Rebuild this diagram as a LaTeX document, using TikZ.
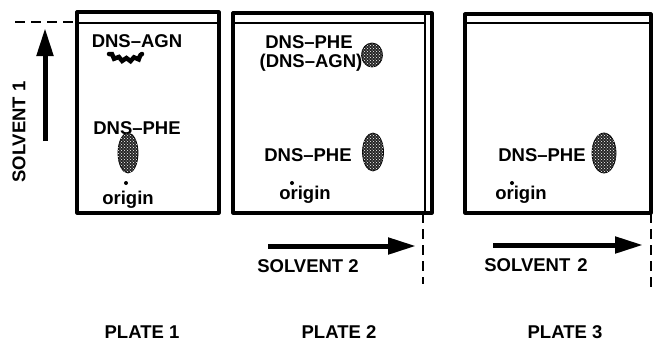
\documentclass[tikz,border=0pt]{standalone}
\usepackage{fontspec}
\setmainfont{Liberation Sans}
\usetikzlibrary{arrows.meta,decorations.pathmorphing,patterns,positioning}

\begin{document}
\begin{tikzpicture}[x=1pt,y=-1pt,font=\fontsize{18.5}{20}\selectfont\bfseries]

\tikzset{platebox/.style={line width=3.2pt,line join=round},
innerline/.style={line width=2.4pt},
frontline/.style={line width=2.6pt,dash pattern=on 10pt off 6pt},
solventarrow/.style={line width=5pt,-{Triangle[length=28pt,width=16pt]}},
spot/.style={fill=black!85,draw=black,line width=0.8pt,postaction={pattern=crosshatch dots,pattern color=white}},
lbl/.style={inner sep=0pt}}

\useasboundingbox (0,0) rectangle (654,341);

% Plates
\draw[platebox] (77,12) rectangle (219,213);
\draw[innerline] (77,23) -- (219,23);
\draw[platebox] (233,13) rectangle (432,213);
\draw[innerline] (233,23) -- (425,23);
\draw[innerline] (425,13) -- (425,213);
\draw[platebox] (465,14) rectangle (651,213);
\draw[innerline] (465,23) -- (651,23);

% Solvent fronts
\coordinate (front1a) at (15,22);
\coordinate (front1b) at (77,22);
\coordinate (front2a) at (423,213);
\coordinate (front2b) at (423,284);
\coordinate (front3a) at (651,213);
\coordinate (front3b) at (651,291);
\draw[frontline] (front1a) -- (front1b);
\draw[frontline] (front2a) -- (front2b);
\draw[frontline] (front3a) -- (front3b);

% Solvent arrows
\coordinate (s1tail) at (45,141);
\coordinate (s1head) at (45,28);
\coordinate (s2tail) at (268,246);
\coordinate (s2head) at (416,246);
\coordinate (s3tail) at (493,245);
\coordinate (s3head) at (643,245);
\draw[solventarrow] (s1tail) -- (s1head);
\draw[solventarrow] (s2tail) -- (s2head);
\draw[solventarrow] (s3tail) -- (s3head);
\node[lbl,rotate=90] (solv1) at (19,132) {SOLVENT 1};
\node[lbl] (solv2) at (308,266) {SOLVENT 2};
\node[lbl] (solv3) at (536,265) {SOLVENT\hspace{7pt}2};

% Plate 1
\node[lbl] (agn1) at (137,41) {DNS--AGN};
\draw[line width=4.5pt,line cap=round,decorate,decoration={snake,amplitude=1.6pt,segment length=8pt}] (109,54) .. controls (118,60) and (133,60) .. (142,54);
\node[lbl] (phe1) at (137,128) {DNS--PHE};
\path[spot] (128,153) ellipse (10 and 20);
\fill (126,183) circle (2);
\node[lbl] (orig1) at (128,200) {origin};

% Plate 2
\node[lbl] (phe2a) at (309,42) {DNS--PHE};
\node[lbl] (agn2) at (311,63) {(DNS--AGN)};
\path[spot] (372,55) ellipse (10.5 and 12);
\node[lbl] (phe2b) at (308,155) {DNS--PHE};
\path[spot] (373,152) ellipse (10.5 and 19);
\fill (292,183) circle (2);
\node[lbl] (orig2) at (305,195) {origin};

% Plate 3
\node[lbl] (phe3) at (542,155) {DNS--PHE};
\path[spot] (604,153) ellipse (12 and 20);
\fill (512,183) circle (2);
\node[lbl] (orig3) at (521,195) {origin};

% Plate labels
\node[lbl] (plate1) at (142,332) {PLATE 1};
\node[lbl] (plate2) at (339,332) {PLATE 2};
\node[lbl] (plate3) at (565,332) {PLATE 3};

\end{tikzpicture}
\end{document}
